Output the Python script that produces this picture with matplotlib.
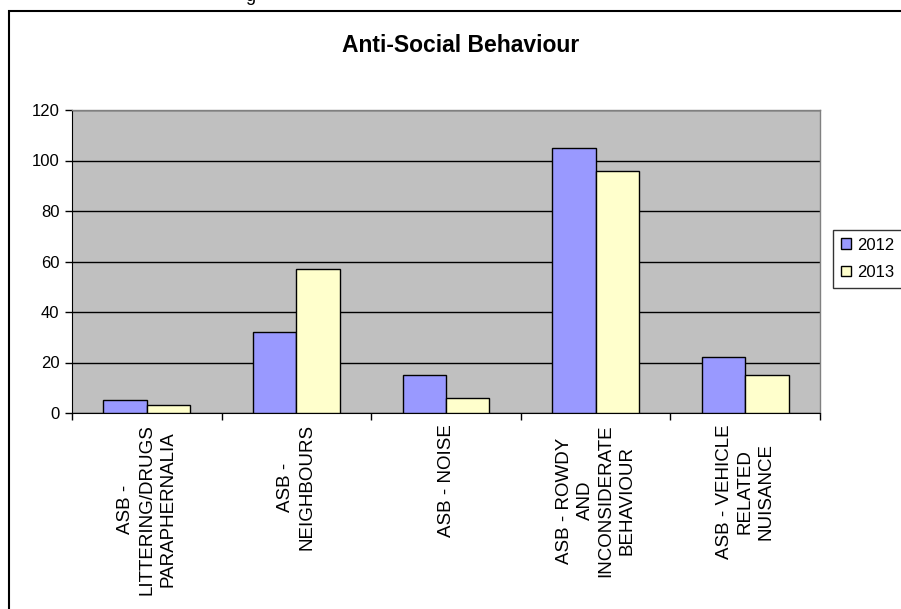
import matplotlib
matplotlib.use("Agg")
import matplotlib.pyplot as plt
from matplotlib.patches import Rectangle
import numpy as np

plt.rcParams['font.family'] = ['Liberation Sans', 'DejaVu Sans']

categories = ["ASB -\nLITTERING/DRUGS\nPARAPHERNALIA",
              "ASB -\nNEIGHBOURS",
              "ASB - NOISE",
              "ASB - ROWDY\nAND\nINCONSIDERATE\nBEHAVIOUR",
              "ASB - VEHICLE\nRELATED\nNUISANCE"]
series_names = ["2012", "2013"]
values_2012 = [5, 32, 15, 105, 22]
values_2013 = [3, 57, 6, 96, 15]
y_ticks = [0, 20, 40, 60, 80, 100, 120]

W, H = 901, 609
fig = plt.figure(figsize=(W / 100, H / 100), dpi=100)

# outer frame (extends past right and bottom edges)
fig.patches.append(Rectangle((9 / W, -0.2), 1.2, 1.2 - 11 / H, transform=fig.transFigure,
                             fill=False, edgecolor='black', linewidth=1.5, clip_on=False))
fig.text(250 / W, 1 + 3 / H, "g", fontsize=13, ha='center', va='center')

ax = fig.add_axes([72 / W, 1 - 413 / H, (820 - 72) / W, (413 - 110) / H])
ax.set_facecolor('#C0C0C0')

x = np.arange(len(categories))
bw = 0.29
ax.bar(x - bw / 2, values_2012, bw, color='#9999FF', edgecolor='black', linewidth=1, label=series_names[0], zorder=3)
ax.bar(x + bw / 2, values_2013, bw, color='#FFFFCC', edgecolor='black', linewidth=1, label=series_names[1], zorder=3)

ax.set_xlim(-0.5, len(categories) - 0.5)
ax.set_ylim(0, 120)
ax.set_yticks(y_ticks)
ax.yaxis.grid(True, color='black', linewidth=1, zorder=1)
ax.set_axisbelow(True)
ax.tick_params(axis='y', labelsize=12, length=5, width=1, direction='out', pad=4)

ax.set_xticks(x)
ax.set_xticklabels(categories, rotation=90, ha='center', va='top', multialignment='center',
                   fontsize=13.5, linespacing=1.3)
ax.tick_params(axis='x', which='major', length=0, pad=8)
ax.set_xticks(np.arange(len(categories) + 1) - 0.5, minor=True)
ax.tick_params(axis='x', which='minor', length=5, width=1, direction='out')

for s in ['top', 'right']:
    ax.spines[s].set_color('#808080')
    ax.spines[s].set_linewidth(1)
ax.spines['left'].set_color('black')
ax.spines['bottom'].set_color('black')

fig.text(461 / W, 1 - 52 / H, "Anti-Social Behaviour", fontsize=16.5, fontweight='bold',
         ha='center', va='baseline')

leg = fig.legend(loc='upper left', bbox_to_anchor=(833 / W, 1 - 230 / H), fontsize=12,
                 frameon=True, fancybox=False, edgecolor='black', handlelength=0.6,
                 handleheight=0.6, handletextpad=0.4, borderpad=0.45, labelspacing=0.75,
                 borderaxespad=0)
leg.get_frame().set_linewidth(1)

fig.savefig("out.png", dpi=100)
